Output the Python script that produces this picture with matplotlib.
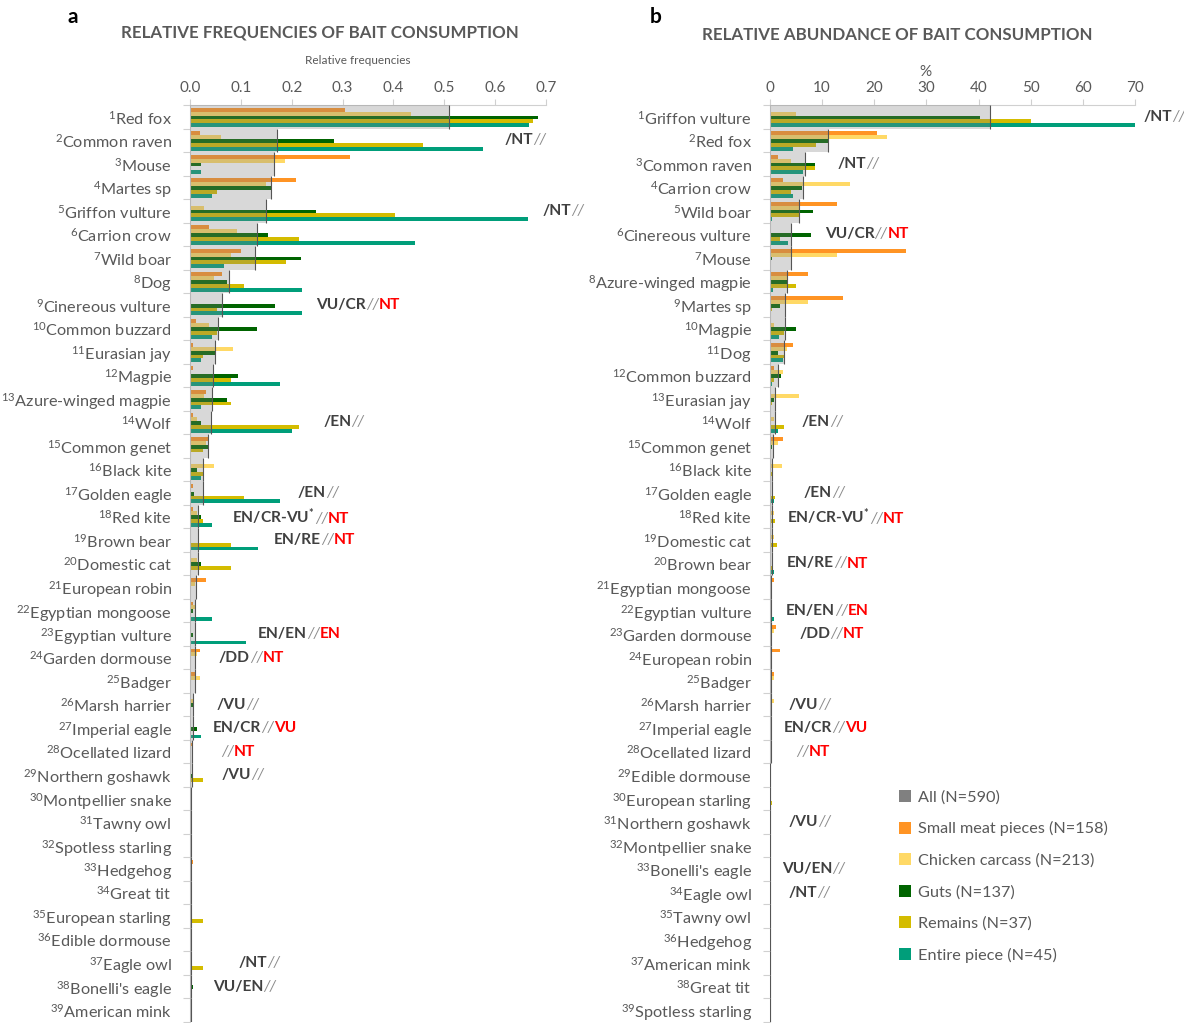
import numpy as np
import matplotlib
matplotlib.use("Agg")
import matplotlib.pyplot as plt
from matplotlib.lines import Line2D
from matplotlib.offsetbox import TextArea, HPacker, AnnotationBbox

plt.rcParams["font.family"] = ["Lato", "DejaVu Sans"]
plt.rcParams["mathtext.default"] = "regular"

# ---------------- data: panel a (relative frequencies) ----------------
freq_species = ["Red fox", "Common raven", "Mouse", "Martes sp", "Griffon vulture",
                "Carrion crow", "Wild boar", "Dog", "Cinereous vulture", "Common buzzard",
                "Eurasian jay", "Magpie", "Azure-winged magpie", "Wolf", "Common genet",
                "Black kite", "Golden eagle", "Red kite", "Brown bear", "Domestic cat",
                "European robin", "Egyptian mongoose", "Egyptian vulture", "Garden dormouse",
                "Badger", "Marsh harrier", "Imperial eagle", "Ocellated lizard",
                "Northern goshawk", "Montpellier snake", "Tawny owl", "Spotless starling",
                "Hedgehog", "Great tit", "European starling", "Edible dormouse", "Eagle owl",
                "Bonelli's eagle", "American mink"]
freq_all = [0.509, 0.171, 0.165, 0.160, 0.149, 0.132, 0.128, 0.077, 0.062, 0.056,
            0.049, 0.046, 0.044, 0.041, 0.035, 0.025, 0.025, 0.015, 0.015, 0.015,
            0.011, 0.010, 0.009, 0.009, 0.009, 0.005, 0.005, 0.003, 0.003, 0.002,
            0.002, 0.002, 0.002, 0.002, 0.002, 0.002, 0.002, 0.002, 0.002]
freq_meat = [0.304, 0.019, 0.315, 0.209, 0.0, 0.037, 0.100, 0.063, 0.0, 0.012,
             0.005, 0.005, 0.031, 0.005, 0.038, 0.0, 0.005, 0.005, 0.0, 0.0,
             0.032, 0.005, 0.0, 0.019, 0.011, 0.0, 0.0, 0.005, 0.0, 0.0,
             0.0, 0.0, 0.005, 0.0, 0.0, 0.0, 0.0, 0.0, 0.0]
freq_chicken = [0.435, 0.061, 0.187, 0.149, 0.028, 0.093, 0.080, 0.047, 0.0, 0.037,
                0.084, 0.0, 0.028, 0.014, 0.032, 0.047, 0.0, 0.014, 0.0, 0.014,
                0.009, 0.011, 0.0, 0.014, 0.019, 0.008, 0.0, 0.0, 0.0, 0.003,
                0.003, 0.003, 0.0, 0.003, 0.0, 0.003, 0.0, 0.0, 0.003]
freq_guts = [0.685, 0.284, 0.021, 0.159, 0.248, 0.153, 0.218, 0.072, 0.167, 0.131,
             0.050, 0.095, 0.072, 0.021, 0.036, 0.014, 0.008, 0.021, 0.0, 0.021,
             0.0, 0.006, 0.006, 0.0, 0.0, 0.006, 0.014, 0.0, 0.006, 0.0,
             0.0, 0.0, 0.0, 0.0, 0.0, 0.0, 0.0, 0.006, 0.0]
freq_remains = [0.675, 0.458, 0.0, 0.054, 0.404, 0.215, 0.188, 0.107, 0.053, 0.053,
                0.026, 0.080, 0.080, 0.215, 0.026, 0.026, 0.107, 0.026, 0.080, 0.080,
                0.0, 0.0, 0.0, 0.0, 0.0, 0.0, 0.0, 0.0, 0.026, 0.0,
                0.0, 0.0, 0.0, 0.0, 0.026, 0.0, 0.026, 0.0, 0.0]
freq_entire = [0.666, 0.577, 0.022, 0.044, 0.665, 0.443, 0.066, 0.221, 0.221, 0.044,
               0.022, 0.177, 0.022, 0.200, 0.0, 0.022, 0.177, 0.044, 0.133, 0.0,
               0.0, 0.044, 0.110, 0.0, 0.0, 0.0, 0.022, 0.0, 0.0, 0.0,
               0.0, 0.0, 0.0, 0.0, 0.0, 0.0, 0.0, 0.0, 0.0]
freq_ticks = [0.0, 0.1, 0.2, 0.3, 0.4, 0.5, 0.6, 0.7]

# ---------------- data: panel b (relative abundance, %) ----------------
abund_species = ["Griffon vulture", "Red fox", "Common raven", "Carrion crow", "Wild boar",
                 "Cinereous vulture", "Mouse", "Azure-winged magpie", "Martes sp", "Magpie",
                 "Dog", "Common buzzard", "Eurasian jay", "Wolf", "Common genet",
                 "Black kite", "Golden eagle", "Red kite", "Domestic cat", "Brown bear",
                 "Egyptian mongoose", "Egyptian vulture", "Garden dormouse", "European robin",
                 "Badger", "Marsh harrier", "Imperial eagle", "Ocellated lizard",
                 "Edible dormouse", "European starling", "Northern goshawk",
                 "Montpellier snake", "Bonelli's eagle", "Eagle owl", "Tawny owl",
                 "Hedgehog", "American mink", "Great tit", "Spotless starling"]
abund_all = [42.1, 11.2, 6.8, 6.3, 5.6, 4.1, 4.1, 3.2, 2.9, 2.8,
             2.6, 1.5, 0.9, 0.9, 0.6, 0.4, 0.4, 0.3, 0.3, 0.3,
             0.2, 0.2, 0.2, 0.2, 0.1, 0.1, 0.1, 0.1, 0.05, 0.05,
             0.05, 0.05, 0.05, 0.05, 0.05, 0.05, 0.05, 0.05, 0.05]
abund_meat = [0.0, 20.5, 1.5, 2.4, 12.8, 0.0, 26.1, 7.2, 14.0, 0.2,
              4.4, 0.7, 0.2, 0.2, 2.4, 0.0, 0.2, 0.2, 0.0, 0.0,
              0.7, 0.0, 1.2, 2.0, 0.7, 0.0, 0.0, 0.4, 0.0, 0.0,
              0.0, 0.0, 0.0, 0.0, 0.0, 0.2, 0.0, 0.0, 0.0]
abund_chicken = [5.0, 22.5, 4.1, 15.3, 5.5, 0.0, 12.8, 3.2, 7.3, 0.7,
                 3.2, 2.5, 5.5, 0.7, 1.6, 2.3, 0.0, 0.7, 0.7, 0.0,
                 0.4, 0.0, 0.7, 0.3, 0.8, 0.7, 0.0, 0.0, 0.2, 0.0,
                 0.1, 0.1, 0.0, 0.0, 0.1, 0.0, 0.1, 0.1, 0.1]
abund_guts = [40.3, 11.1, 8.6, 6.1, 8.3, 7.9, 0.3, 3.3, 2.0, 5.0,
              1.5, 2.1, 0.7, 0.1, 0.4, 0.1, 0.1, 0.1, 0.2, 0.0,
              0.0, 0.1, 0.0, 0.0, 0.0, 0.1, 0.4, 0.0, 0.0, 0.0,
              0.1, 0.0, 0.1, 0.0, 0.0, 0.0, 0.0, 0.0, 0.0]
abund_remains = [50.1, 8.9, 8.7, 4.1, 5.5, 1.9, 0.0, 5.0, 0.4, 2.6,
                 2.8, 0.7, 0.4, 2.6, 0.2, 0.4, 0.9, 0.9, 1.3, 0.6,
                 0.0, 0.0, 0.0, 0.0, 0.0, 0.0, 0.0, 0.0, 0.0, 0.4,
                 0.2, 0.0, 0.0, 0.2, 0.0, 0.0, 0.0, 0.0, 0.0]
abund_entire = [70.0, 4.4, 6.3, 4.4, 0.4, 3.5, 0.1, 0.5, 0.2, 1.7,
                2.5, 0.3, 0.2, 1.5, 0.0, 0.2, 0.7, 0.2, 0.0, 0.7,
                0.2, 0.7, 0.0, 0.0, 0.0, 0.0, 0.2, 0.0, 0.0, 0.0,
                0.0, 0.0, 0.0, 0.0, 0.0, 0.0, 0.0, 0.0, 0.0]
abund_ticks = [0, 10, 20, 30, 40, 50, 60, 70]

series_names = ["All (N=590)", "Small meat pieces (N=158)", "Chicken carcass (N=213)",
                "Guts (N=137)", "Remains (N=37)", "Entire piece (N=45)"]

# conservation status: (species, grey part, red part)
status = [("Griffon vulture", "/NT", ""), ("Common raven", "/NT", ""),
          ("Cinereous vulture", "VU/CR", "NT"), ("Wolf", "/EN", ""),
          ("Golden eagle", "/EN", ""), ("Red kite", "EN/CR-VU$^{*}$", "NT"),
          ("Brown bear", "EN/RE", "NT"), ("Egyptian vulture", "EN/EN", "EN"),
          ("Garden dormouse", "/DD", "NT"), ("Marsh harrier", "/VU", ""),
          ("Imperial eagle", "EN/CR", "VU"), ("Ocellated lizard", "", "NT"),
          ("Northern goshawk", "/VU", ""), ("Eagle owl", "/NT", ""),
          ("Bonelli's eagle", "VU/EN", "")]

# horizontal placement of the status labels (data units of each panel)
status_x_a = {"Common raven": 0.619, "Griffon vulture": 0.694, "Cinereous vulture": 0.248,
              "Wolf": 0.262, "Golden eagle": 0.212, "Red kite": 0.083, "Brown bear": 0.165,
              "Egyptian vulture": 0.134, "Garden dormouse": 0.057, "Marsh harrier": 0.053,
              "Imperial eagle": 0.045, "Ocellated lizard": 0.061, "Northern goshawk": 0.063,
              "Eagle owl": 0.096, "Bonelli's eagle": 0.045}
status_x_b = {"Griffon vulture": 71.7, "Common raven": 13.0, "Cinereous vulture": 10.5,
              "Wolf": 6.1, "Golden eagle": 6.5, "Red kite": 3.3, "Brown bear": 3.3,
              "Egyptian vulture": 3.1, "Garden dormouse": 5.6, "Marsh harrier": 3.5,
              "Imperial eagle": 2.7, "Ocellated lizard": 5.0, "Northern goshawk": 3.5,
              "Bonelli's eagle": 2.3, "Eagle owl": 3.5}

# ---------------- styling ----------------
C_ALL = "#808080"
C_SERIES = ["#ff9424", "#ffd966", "#006400", "#d4bc00", "#009e7a"]
TXT = "#595959"
DARK = "#404040"
AX_LINE = "#d0d0d0"
LABEL_SIZE = 11.7
STATUS_SIZE = 11.2

W, H = 1184, 1023
fig = plt.figure(figsize=(W / 100, H / 100), dpi=100)


def fx(px):
    return px / W


def fy(py):
    return 1 - py / H


def draw_panel(ax, species, all_vals, series, ticks, xmax, tick_fmt, xs_status):
    n = len(species)
    y = np.arange(n)
    h = 0.165
    for k, vals in enumerate(series):
        ax.barh(y + (k - 2) * h + 0.03, vals, height=h, color=C_SERIES[k],
                linewidth=0, zorder=2)
    ax.barh(y, all_vals, height=1.0, color=C_ALL, alpha=0.3, linewidth=0, zorder=3)
    ax.vlines(all_vals, y - 0.5, y + 0.5, color="#555555", lw=0.8, zorder=4)

    ax.set_xlim(0, xmax)
    ax.set_ylim(n - 0.5, -0.5)
    ax.xaxis.tick_top()
    ax.set_xticks(ticks)
    ax.set_xticklabels([tick_fmt.format(t) for t in ticks])
    ax.tick_params(axis="x", colors=AX_LINE, labelcolor=TXT, labelsize=11,
                   length=4, width=0.8, pad=3)
    ax.set_yticks(y)
    ax.set_yticklabels([f"$^{{{i + 1}}}${s}" for i, s in enumerate(species)])
    ax.tick_params(axis="y", length=0, pad=13, labelsize=LABEL_SIZE, labelcolor=TXT)
    ax.set_yticks(np.arange(n + 1) - 0.5, minor=True)
    ax.tick_params(axis="y", which="minor", length=5, color=AX_LINE, width=0.8)
    for side in ("right", "bottom"):
        ax.spines[side].set_visible(False)
    for side in ("top", "left"):
        ax.spines[side].set_color(AX_LINE)
        ax.spines[side].set_linewidth(0.8)

    index = {s: i for i, s in enumerate(species)}
    for sp, grey_part, red_part in status:
        parts = []
        if grey_part:
            parts.append(TextArea(grey_part, textprops=dict(color=DARK, fontsize=STATUS_SIZE,
                                                            fontweight="bold")))
        parts.append(TextArea("//", textprops=dict(color="#8c8c8c", fontsize=STATUS_SIZE,
                                                   style="italic")))
        if red_part:
            parts.append(TextArea(red_part, textprops=dict(color="#ff0000",
                                                           fontsize=STATUS_SIZE,
                                                           fontweight="bold")))
        box = HPacker(children=parts, align="baseline", pad=0, sep=0)
        ab = AnnotationBbox(box, (xs_status[sp], index[sp]), xycoords="data",
                            box_alignment=(0, 0.5), frameon=False, pad=0,
                            annotation_clip=False)
        ax.add_artist(ab)


ax_a = fig.add_axes([fx(190), fy(1022), fx(546) - fx(190), fy(105) - fy(1022)])
draw_panel(ax_a, freq_species, freq_all,
           [freq_meat, freq_chicken, freq_guts, freq_remains, freq_entire],
           freq_ticks, 0.7, "{:.1f}", status_x_a)

ax_b = fig.add_axes([fx(770), fy(1022), fx(1135) - fx(770), fy(105) - fy(1022)])
draw_panel(ax_b, abund_species, abund_all,
           [abund_meat, abund_chicken, abund_guts, abund_remains, abund_entire],
           abund_ticks, 70, "{:d}", status_x_b)

# titles and axis captions
fig.text(fx(68), fy(17), "a", fontsize=15, fontweight="bold", color="black",
         va="center", ha="left")
fig.text(fx(320), fy(33), "RELATIVE FREQUENCIES OF BAIT CONSUMPTION", fontsize=12.2,
         fontweight="bold", color=TXT, ha="center", va="center")
fig.text(fx(358), fy(60), "Relative frequencies", fontsize=8.5, color=TXT,
         ha="center", va="center")
fig.text(fx(650), fy(17), "b", fontsize=15, fontweight="bold", color="black",
         va="center", ha="left")
fig.text(fx(897), fy(35), "RELATIVE ABUNDANCE OF BAIT CONSUMPTION", fontsize=12.2,
         fontweight="bold", color=TXT, ha="center", va="center")
fig.text(fx(925), fy(72), "%", fontsize=11, color=TXT, ha="center", va="center")

# legend
handles = [Line2D([], [], marker="s", ls="", ms=9, color=c, markeredgewidth=0)
           for c in [C_ALL] + C_SERIES]
leg = ax_b.legend(handles, series_names, loc="upper left",
                  bbox_to_anchor=(fx(898), fy(790)), bbox_transform=fig.transFigure,
                  frameon=False, fontsize=11.7, labelcolor=TXT, handlelength=0.8,
                  handletextpad=0.4, labelspacing=1.05, borderpad=0, borderaxespad=0)

fig.savefig("out.png", dpi=100)
